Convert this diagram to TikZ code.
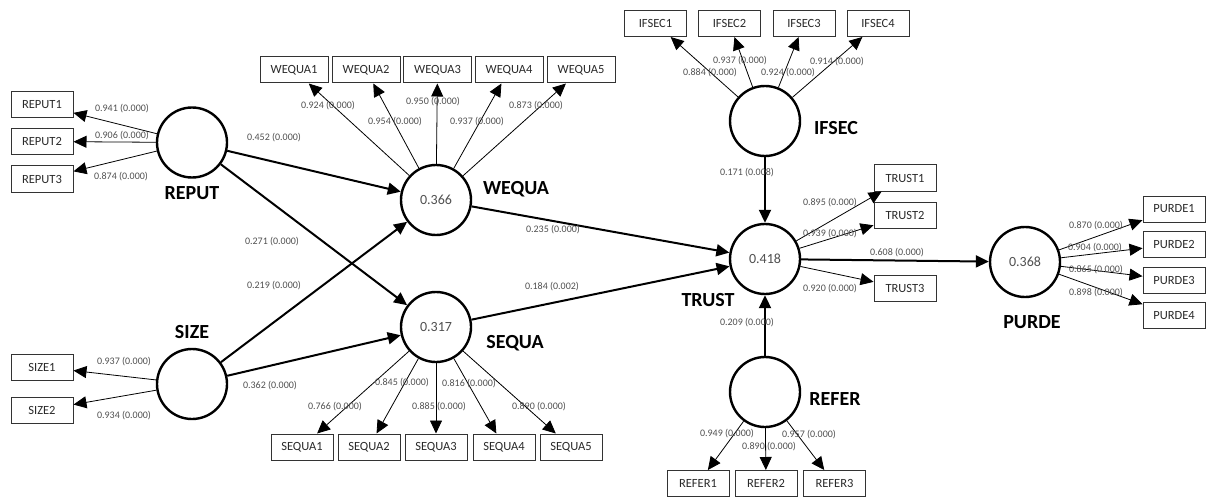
\documentclass[tikz,border=0pt]{standalone}
\usepackage{fontspec}
\setmainfont{Carlito}
\usetikzlibrary{arrows.meta}
\definecolor{lbl}{HTML}{505050}
\definecolor{boxtxt}{HTML}{2A2A2A}
\tikzset{
  lv/.style={circle, draw=black, line width=2.4pt, fill=white, minimum size=70pt, inner sep=0pt, font=\fontsize{14}{14}\selectfont, text=lbl},
  ind/.style={rectangle, draw=black!80, line width=1pt, fill=white, minimum height=26pt, minimum width=62pt, inner sep=0pt, font=\fontsize{12.5}{12.5}\selectfont, text=boxtxt},
  wind/.style={ind, minimum width=68pt},
  lvname/.style={font=\fontsize{20}{20}\selectfont\bfseries, text=black, inner sep=0pt},
  coef/.style={font=\fontsize{10}{10}\selectfont, text=lbl, inner sep=0pt},
  inner/.style={line width=2pt, -{Triangle[length=13pt,width=12pt]}},
  load/.style={line width=0.8pt, -{Triangle[length=13pt,width=12pt]}},
}
\begin{document}
\begin{tikzpicture}[x=1pt,y=-1pt]
\useasboundingbox (0,0) rectangle (1206,497);
% latent variables
\node[lv] (REPUT) at (192,142.5) {};
\node[lv] (SIZE) at (192,384) {};
\node[lv] (WEQUA) at (436,200) {0.366};
\node[lv] (SEQUA) at (436,327) {0.317};
\node[lv] (IFSEC) at (765,121) {};
\node[lv] (TRUST) at (765,259) {0.418};
\node[lv] (REFER) at (765,392) {};
\node[lv] (PURDE) at (1025,262) {0.368};
% names
\node[lvname] (nREPUT) at (192,193) {REPUT};
\node[lvname] (nSIZE) at (192,332) {SIZE};
\node[lvname] (nWEQUA) at (516,189) {WEQUA};
\node[lvname] (nSEQUA) at (515,343) {SEQUA};
\node[lvname] (nIFSEC) at (836,128) {IFSEC};
\node[lvname] (nTRUST) at (708,300) {TRUST};
\node[lvname] (nREFER) at (835,399) {REFER};
\node[lvname] (nPURDE) at (1032,322) {PURDE};
% indicators
\node[ind] (REPUT1) at (42,105) {REPUT1};
\node[ind] (REPUT2) at (42,141.5) {REPUT2};
\node[ind] (REPUT3) at (42,179) {REPUT3};
\node[ind] (SIZE1) at (42,367) {SIZE1};
\node[ind] (SIZE2) at (42,410) {SIZE2};
\node[wind] (WEQUA1) at (294,70) {WEQUA1};
\node[wind] (WEQUA2) at (366,70) {WEQUA2};
\node[wind] (WEQUA3) at (437.5,70) {WEQUA3};
\node[wind] (WEQUA4) at (509,70) {WEQUA4};
\node[wind] (WEQUA5) at (581,70) {WEQUA5};
\node[ind] (SEQUA1) at (302,447) {SEQUA1};
\node[ind] (SEQUA2) at (369,447) {SEQUA2};
\node[ind] (SEQUA3) at (436,447) {SEQUA3};
\node[ind] (SEQUA4) at (504,447) {SEQUA4};
\node[ind] (SEQUA5) at (571,447) {SEQUA5};
\node[ind] (IFSEC1) at (655.5,23.5) {IFSEC1};
\node[ind] (IFSEC2) at (729.5,23.5) {IFSEC2};
\node[ind] (IFSEC3) at (804,23.5) {IFSEC3};
\node[ind] (IFSEC4) at (878,23.5) {IFSEC4};
\node[ind] (TRUST1) at (905,178) {TRUST1};
\node[ind] (TRUST2) at (905,215.5) {TRUST2};
\node[ind] (TRUST3) at (905,288.5) {TRUST3};
\node[ind] (REFER1) at (698,483.5) {REFER1};
\node[ind] (REFER2) at (766,483.5) {REFER2};
\node[ind] (REFER3) at (834.5,483.5) {REFER3};
\node[ind] (PURDE1) at (1174,209) {PURDE1};
\node[ind] (PURDE2) at (1174,244.5) {PURDE2};
\node[ind] (PURDE3) at (1174,280) {PURDE3};
\node[ind] (PURDE4) at (1174,315.5) {PURDE4};
% loadings
\foreach \s/\t in {REPUT/REPUT1,REPUT/REPUT2,REPUT/REPUT3,SIZE/SIZE1,SIZE/SIZE2,
  WEQUA/WEQUA1,WEQUA/WEQUA2,WEQUA/WEQUA3,WEQUA/WEQUA4,WEQUA/WEQUA5,
  SEQUA/SEQUA1,SEQUA/SEQUA2,SEQUA/SEQUA3,SEQUA/SEQUA4,SEQUA/SEQUA5,
  IFSEC/IFSEC1,IFSEC/IFSEC2,IFSEC/IFSEC3,IFSEC/IFSEC4,
  TRUST/TRUST1,TRUST/TRUST2,TRUST/TRUST3,
  REFER/REFER1,REFER/REFER2,REFER/REFER3,
  PURDE/PURDE1,PURDE/PURDE2,PURDE/PURDE3,PURDE/PURDE4}
  \draw[load] (\s) -- (\t);
% structural paths
\draw[inner] (REPUT) -- (WEQUA);
\draw[inner] (REPUT) -- (SEQUA);
\draw[inner] (SIZE) -- (WEQUA);
\draw[inner] (SIZE) -- (SEQUA);
\draw[inner] (WEQUA) -- (TRUST);
\draw[inner] (SEQUA) -- (TRUST);
\draw[inner] (IFSEC) -- (TRUST);
\draw[inner] (REFER) -- (TRUST);
\draw[inner] (TRUST) -- (PURDE);
% coefficient labels
\node[coef] (c1) at (122,109) {0.941 (0.000)};
\node[coef] (c2) at (122,136) {0.906 (0.000)};
\node[coef] (c3) at (121,177) {0.874 (0.000)};
\node[coef] (c4) at (124,362) {0.937 (0.000)};
\node[coef] (c5) at (124,416) {0.934 (0.000)};
\node[coef] (c6) at (274,138) {0.452 (0.000)};
\node[coef] (c7) at (272,242) {0.271 (0.000)};
\node[coef] (c8) at (274,286) {0.219 (0.000)};
\node[coef] (c9) at (270,386) {0.362 (0.000)};
\node[coef] (c10) at (328,106) {0.924 (0.000)};
\node[coef] (c11) at (395,122) {0.954 (0.000)};
\node[coef] (c12) at (433,102) {0.950 (0.000)};
\node[coef] (c13) at (477,122) {0.937 (0.000)};
\node[coef] (c14) at (536,106) {0.873 (0.000)};
\node[coef] (c15) at (553,230) {0.235 (0.000)};
\node[coef] (c16) at (552,287) {0.184 (0.002)};
\node[coef] (c17) at (335,407) {0.766 (0.000)};
\node[coef] (c18) at (402,383) {0.845 (0.000)};
\node[coef] (c19) at (439,407) {0.885 (0.000)};
\node[coef] (c20) at (469,384) {0.816 (0.000)};
\node[coef] (c21) at (539,407) {0.890 (0.000)};
\node[coef] (c22) at (740,61) {0.937 (0.000)};
\node[coef] (c23) at (710,73) {0.884 (0.000)};
\node[coef] (c24) at (788,73) {0.924 (0.000)};
\node[coef] (c25) at (837,62) {0.914 (0.000)};
\node[coef] (c26) at (747,173) {0.171 (0.008)};
\node[coef] (c27) at (830,203) {0.895 (0.000)};
\node[coef] (c28) at (830,234) {0.939 (0.000)};
\node[coef] (c29) at (830,289) {0.920 (0.000)};
\node[coef] (c30) at (897,253) {0.608 (0.000)};
\node[coef] (c31) at (747,323) {0.209 (0.000)};
\node[coef] (c32) at (727,434) {0.949 (0.000)};
\node[coef] (c33) at (769,447) {0.890 (0.000)};
\node[coef] (c34) at (809,435) {0.957 (0.000)};
\node[coef] (c35) at (1096,226) {0.870 (0.000)};
\node[coef] (c36) at (1095,248) {0.904 (0.000)};
\node[coef] (c37) at (1096,270) {0.865 (0.000)};
\node[coef] (c38) at (1096,293) {0.898 (0.000)};
\end{tikzpicture}
\end{document}
